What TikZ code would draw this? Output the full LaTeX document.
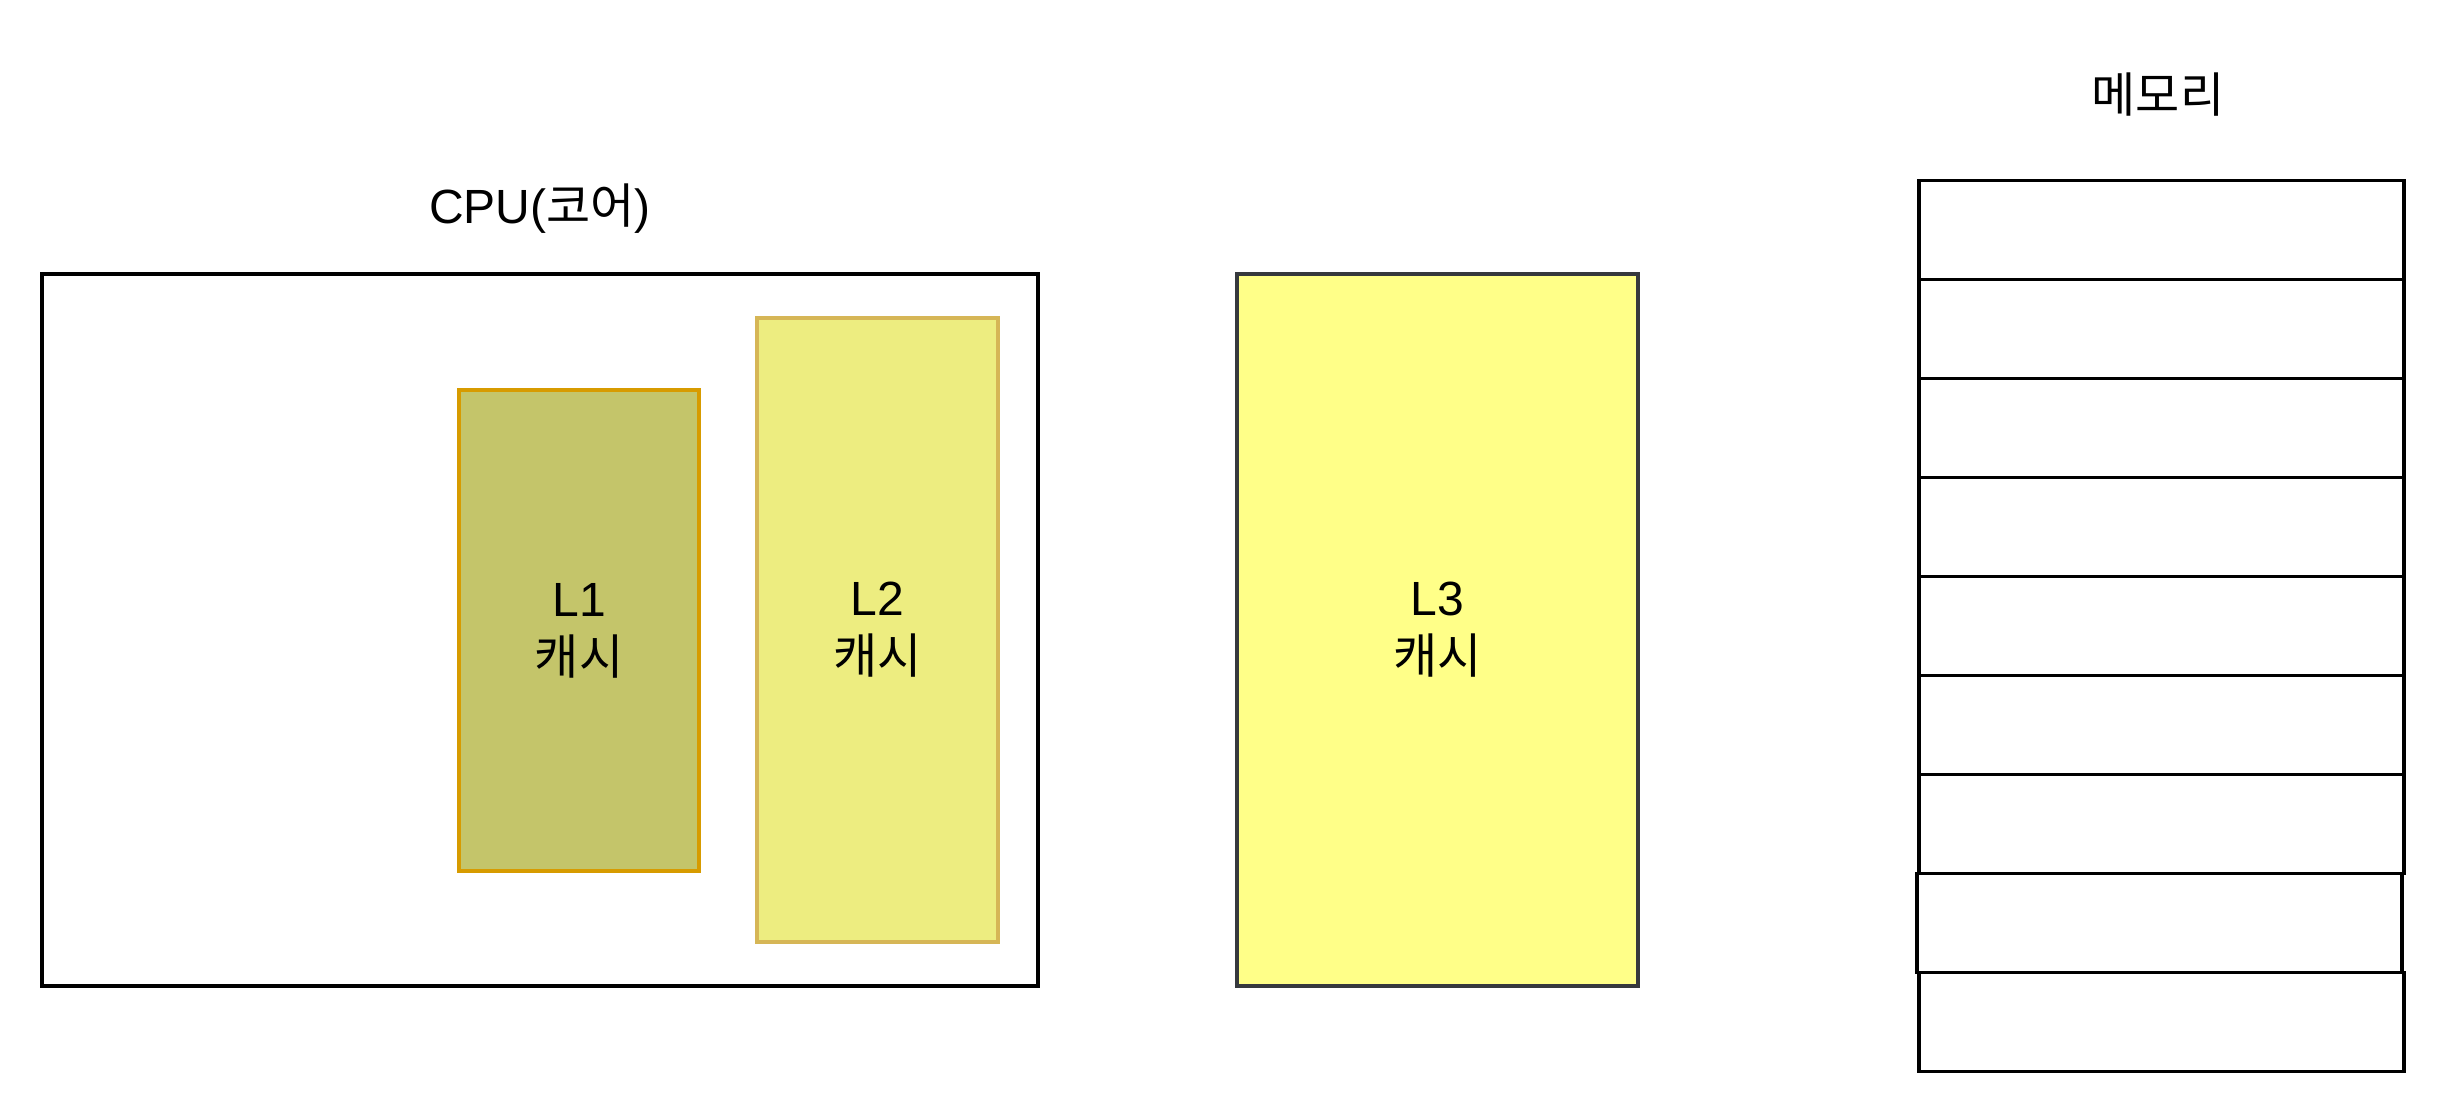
\documentclass[tikz,border=0pt]{standalone}
\usepackage{fontspec}
\setmainfont{Liberation Sans}
\newfontfamily\kr{Noto Sans CJK KR}
\usetikzlibrary{positioning}

\definecolor{lonefill}{RGB}{196,197,106}
\definecolor{lonedraw}{RGB}{215,155,0}
\definecolor{ltwofill}{RGB}{237,237,128}
\definecolor{ltwodraw}{RGB}{214,182,86}
\definecolor{lthreefill}{RGB}{255,255,136}
\definecolor{lthreedraw}{RGB}{54,57,61}

\begin{document}
\begin{tikzpicture}[x=1pt,y=-1pt,
    box/.style={rectangle,draw,line width=3.5pt,inner sep=0pt,align=center,font=\fontsize{48}{58}\selectfont},
    cell/.style={box,minimum width=485pt,minimum height=99pt},
    title/.style={font=\fontsize{48}{58}\selectfont}]

        \useasboundingbox (0,0) rectangle (2448,1116);

        % CPU core with L1 and L2
        \node[box, minimum width=996pt, minimum height=712pt] (cpu) at (540,630) {};
        \node[title] (cputitle) at (540,209) {CPU({\kr 코어})};
        \node[box, draw=lonedraw, fill=lonefill, minimum width=240pt, minimum height=481pt] (l1) at (579,630.5) {L1\\{\kr 캐시}};
        \node[box, draw=ltwodraw, fill=ltwofill, minimum width=241pt, minimum height=624pt] (l2) at (877.5,630) {L2\\{\kr 캐시}};

        % L3
        \node[box, draw=lthreedraw, fill=lthreefill, minimum width=401pt, minimum height=712pt] (l3) at (1437.5,630) {L3\\{\kr 캐시}};

        % memory
        \node[title] (memtitle) at (2158,95) {\kr 메모리};
        \foreach \i/\dx in {0/0,1/0,2/0,3/0,4/0,5/0,6/0,7/-2,8/0}
          \node[cell] (mem\i) at (2161.5+\dx, 230+99*\i) {};
\end{tikzpicture}
\end{document}
